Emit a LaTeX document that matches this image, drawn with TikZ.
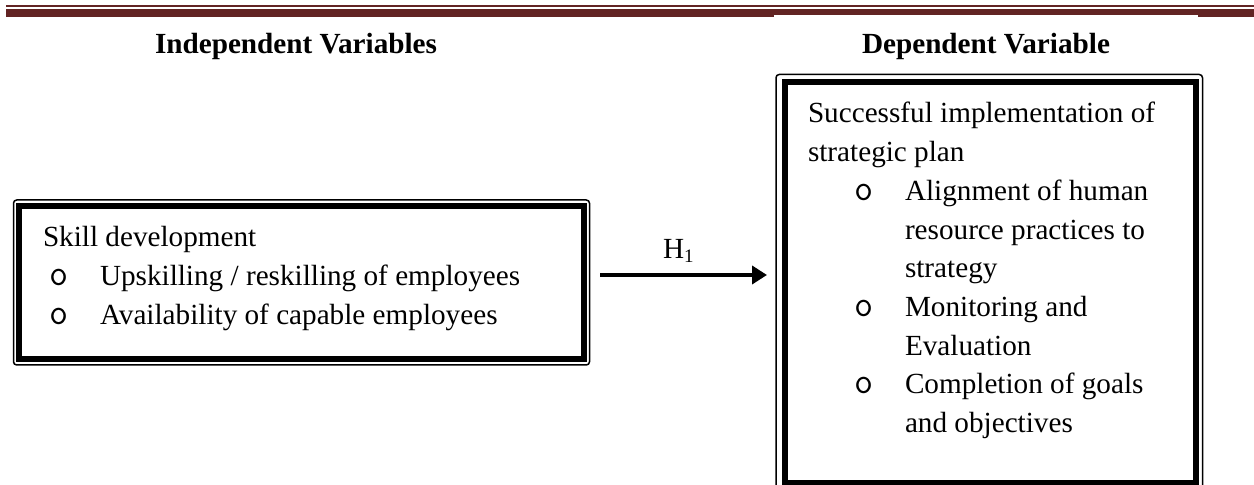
\documentclass[tikz,border=0pt]{standalone}
\usepackage{fontspec}
\setmainfont{Liberation Serif}
\usetikzlibrary{arrows.meta}
\definecolor{bannerred}{HTML}{622423}
\begin{document}
\begin{tikzpicture}[x=0.5pt,y=-0.5pt,
  every node/.style={inner sep=0pt, outer sep=0pt},
  txt/.style={anchor=base west, font=\fontsize{14.6}{19.35}\selectfont},
  title/.style={anchor=base west, font=\fontsize{14.6}{19.35}\selectfont\bfseries},
  bullet/.style={anchor=base west, font=\fontsize{18.5}{19.35}\selectfont\ttfamily},
  outerframe/.style={draw, line width=0.75pt, rounded corners=1.6pt},
  innerframe/.style={draw, line width=3pt},
  link/.style={line width=2pt, -{Triangle[length=7.5pt,width=9pt]}}
]
\clip (0,0) rectangle (1254,485);

% header rules
\fill[bannerred] (6,5) rectangle (1254,6.7);
\fill[bannerred] (6,9.3) rectangle (774,16.7);
\fill[bannerred] (774,9.3) rectangle (1198,15);
\fill[bannerred] (1198,9.3) rectangle (1254,16.7);

% column headings
\node[title] (indep) at (155,54) {Independent Variables};
\node[title] (dep) at (862,54) {Dependent Variable};

% independent variable box
\node[outerframe, minimum width=288pt, minimum height=82.5pt] (lbox) at (301.5,282.5) {};
\draw[innerframe] ([shift={(5.5,6)}]lbox.north west) rectangle ([shift={(-5.5,-5.5)}]lbox.south east);
\node[txt] (skill) at (43,247) {Skill development};
\node[bullet] (lb1) at (49,285.7) {o};
\node[txt] (up) at (100,285.7) {Upskilling / reskilling of employees};
\node[bullet] (lb2) at (49,324.4) {o};
\node[txt] (avail) at (100,324.4) {Availability of capable employees};

% dependent variable box
\node[outerframe, minimum width=213.25pt, minimum height=210.25pt] (rbox) at (989.25,284.75) {};
\draw[innerframe] ([shift={(8.5,7.5)}]rbox.north west) rectangle ([shift={(-6.5,-12)}]rbox.south east);
\node[txt] (succ) at (808,123) {Successful implementation of};
\node[txt] (plan) at (808,161.7) {strategic plan};
\node[bullet] (rb1) at (854,200.4) {o};
\node[txt] (align1) at (905,200.4) {Alignment of human};
\node[txt] (align2) at (905,239.1) {resource practices to};
\node[txt] (align3) at (905,277.8) {strategy};
\node[bullet] (rb2) at (854,316.5) {o};
\node[txt] (mon1) at (905,316.5) {Monitoring and};
\node[txt] (mon2) at (905,355.2) {Evaluation};
\node[bullet] (rb3) at (854,393.9) {o};
\node[txt] (comp1) at (905,393.9) {Completion of goals};
\node[txt] (comp2) at (905,432.6) {and objectives};

% hypothesis arrow
\coordinate (arrowrow) at (0,275);
\node[txt] (h1) at (663,259) {H{\fontsize{9.5}{10}\selectfont\raisebox{-0.35ex}{1}}};
\draw[link, shorten <=5.25pt, shorten >=4.5pt] (lbox.east |- arrowrow) -- (rbox.west |- arrowrow);
\end{tikzpicture}
\end{document}
